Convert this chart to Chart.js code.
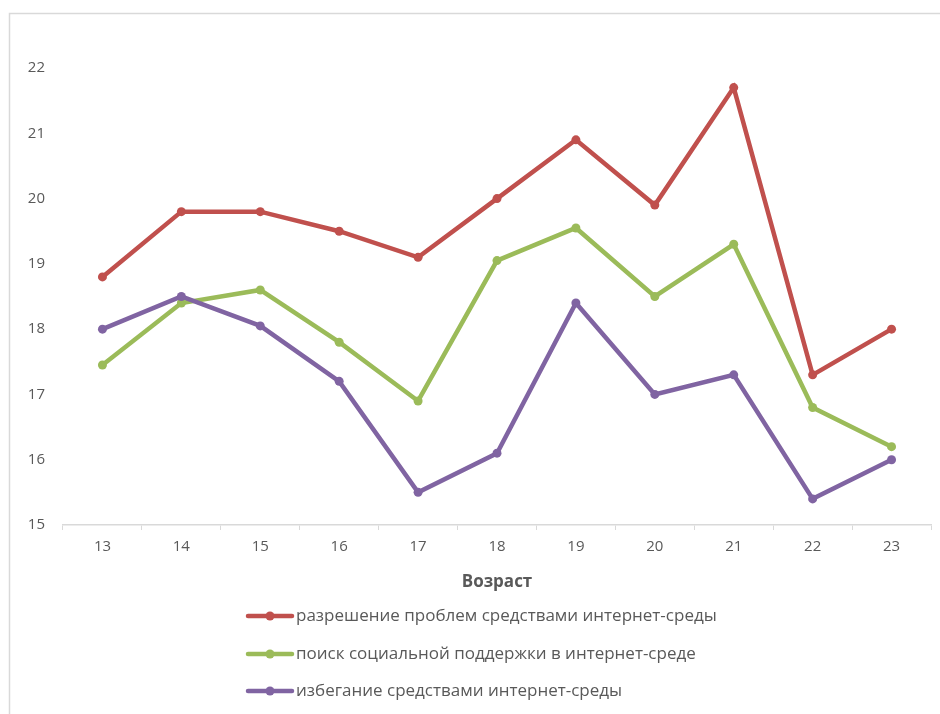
<!DOCTYPE html>
<html lang="ru">
<head>
<meta charset="utf-8">
<title>Копинг-стратегии по возрасту</title>
<script src="https://cdn.jsdelivr.net/npm/chart.js@4/dist/chart.umd.min.js"></script>
<style>
  html, body { margin: 0; padding: 0; background: #fff; overflow: hidden; }
  #wrap { position: relative; width: 940px; height: 714px; }
</style>
</head>
<body>
<div id="wrap"><canvas id="chart" width="940" height="714"></canvas></div>
<script>
// Age groups (x axis)
const ages = ['13', '14', '15', '16', '17', '18', '19', '20', '21', '22', '23'];

// Mean scores by age
const problemSolving = [18.8, 19.8, 19.8, 19.5, 19.1, 20.0, 20.9, 19.9, 21.7, 17.3, 18.0];
const socialSupport  = [17.45, 18.4, 18.6, 17.8, 16.9, 19.05, 19.55, 18.5, 19.3, 16.8, 16.2];
const avoidance      = [18.0, 18.5, 18.05, 17.2, 15.5, 16.1, 18.4, 17.0, 17.3, 15.4, 16.0];

const seriesNames = [
  'разрешение проблем средствами интернет-среды',
  'поиск социальной поддержки в интернет-среде',
  'избегание средствами интернет-среды'
];
const seriesColors = ['#C0504D', '#9BBB59', '#8064A2'];

const axisTitle = 'Возраст';
const yMin = 15, yMax = 22, yStep = 1;

const textColor = '#595959';
const lineColor = '#D9D9D9';
const fontFamily = '"Open Sans", "DejaVu Sans", sans-serif';

function lineSet(label, data, color, order) {
  return {
    label, data, order,
    borderColor: color,
    backgroundColor: color,
    borderWidth: 4.5,
    pointRadius: 4.5,
    pointBorderWidth: 0,
    pointBackgroundColor: color,
    tension: 0,
    fill: false
  };
}

// Frame around the chart
const framePlugin = {
  id: 'frame',
  beforeDraw(chart) {
    const ctx = chart.ctx;
    ctx.save();
    ctx.fillStyle = '#fff';
    ctx.fillRect(0, 0, chart.width, chart.height);
    ctx.strokeStyle = lineColor;
    ctx.lineWidth = 1.5;
    ctx.strokeRect(9.5, 13.5, 1000, 800);
    ctx.restore();
  }
};

// Legend stacked in a single column under the axis title
const stackedLegend = {
  id: 'stackedLegend',
  afterDraw(chart) {
    const ctx = chart.ctx;
    const x0 = 248, x1 = 292, textX = 296;
    const rows = [616, 654, 691];
    ctx.save();
    ctx.font = '17px ' + fontFamily;
    ctx.textBaseline = 'middle';
    ctx.textAlign = 'left';
    chart.data.datasets.forEach((ds, i) => {
      const y = rows[i];
      ctx.strokeStyle = ds.borderColor;
      ctx.lineWidth = 4.5;
      ctx.lineCap = 'round';
      ctx.beginPath();
      ctx.moveTo(x0, y);
      ctx.lineTo(x1, y);
      ctx.stroke();
      ctx.fillStyle = ds.borderColor;
      ctx.beginPath();
      ctx.arc((x0 + x1) / 2, y, 4.5, 0, Math.PI * 2);
      ctx.fill();
      ctx.fillStyle = textColor;
      ctx.fillText(ds.label, textX, y);
    });
    ctx.restore();
  }
};

new Chart(document.getElementById('chart'), {
  type: 'line',
  data: {
    labels: ages,
    datasets: [
      lineSet(seriesNames[0], problemSolving, seriesColors[0], 2),
      lineSet(seriesNames[1], socialSupport, seriesColors[1], 1),
      lineSet(seriesNames[2], avoidance, seriesColors[2], 0)
    ]
  },
  options: {
    responsive: false,
    animation: false,
    devicePixelRatio: 1,
    layout: { padding: { left: 0, top: 68, right: 9, bottom: 121 } },
    plugins: {
      legend: { display: false },
      tooltip: { enabled: false },
      title: { display: false }
    },
    scales: {
      x: {
        offset: true,
        grid: {
          offset: true,
          drawOnChartArea: false,
          drawTicks: true,
          tickLength: 5,
          color: lineColor,
          lineWidth: 1
        },
        border: { display: true, color: lineColor, width: 1.5 },
        ticks: {
          color: textColor,
          font: { family: fontFamily, size: 15 },
          padding: 8,
          maxRotation: 0,
          autoSkip: false
        },
        title: {
          display: true,
          text: axisTitle,
          color: textColor,
          font: { family: fontFamily, size: 17, weight: 'bold' },
          padding: { top: 14, bottom: 1 }
        },
        afterFit(scale) { scale.height = 68; }
      },
      y: {
        min: yMin,
        max: yMax,
        grid: { display: false, drawTicks: false },
        border: { display: false },
        ticks: {
          stepSize: yStep,
          color: textColor,
          font: { family: fontFamily, size: 15 },
          padding: 18
        },
        afterFit(scale) { scale.width = 63; }
      }
    }
  },
  plugins: [framePlugin, stackedLegend]
});
</script>
</body>
</html>
